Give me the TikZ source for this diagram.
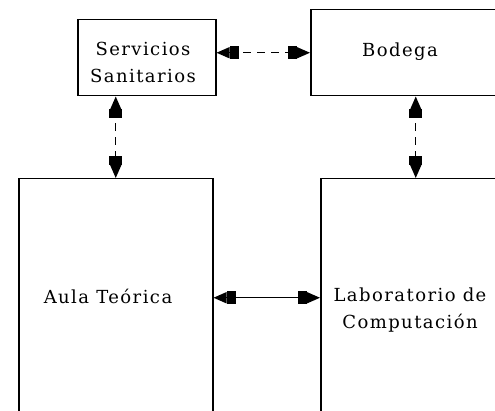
\documentclass[tikz,border=0pt]{standalone}
\usepackage{fontspec}
\setmainfont{DejaVu Serif}[LetterSpace=8]
\usetikzlibrary{arrows.meta}
\begin{document}
\begin{tikzpicture}[x=1pt,y=-1pt,
  box/.style={draw, line width=1.5pt, inner sep=0pt, anchor=north west},
  lbl/.style={font=\fontsize{18}{27}\selectfont, align=center, inner sep=0pt},
  conn/.style={{Triangle[length=13pt,width=11pt,sep=0pt] Rectangle[length=9pt,width=13pt,sep=0pt]}-{Rectangle[length=9pt,width=13pt,sep=0pt] Triangle[length=13pt,width=11pt,sep=0pt]}, line width=1.4pt},
  dsh/.style={dash pattern=on 8pt off 6pt}]
\useasboundingbox (0,0) rectangle (495,411);
\clip (0,0) rectangle (495,411);
\node[box, minimum width=138pt, minimum height=76pt] (serv) at (77,19) {};
\node[box, minimum width=200pt, minimum height=86pt] (bod) at (310,9) {};
\node[box, minimum width=194pt, minimum height=238pt] (aula) at (18,178) {};
\node[box, minimum width=190pt, minimum height=238pt] (lab) at (320,178) {};
\node[lbl] (tserv) at (143,62) {Servicios\\Sanitarios};
\node[lbl] (tbod) at (400,52) {Bodega};
\node[lbl] (taula) at (108,296) {Aula Teórica};
\node[lbl] (tlab) at (410,310) {Laboratorio de\\Computación};
\draw[conn, dsh] (serv.east |- bod.west) -- (bod.west);
\draw[conn, dsh] (aula.north |- serv.south) -- (aula.north);
\draw[conn, dsh] (lab.north |- bod.south) -- (lab.north);
\draw[conn] (aula.east) -- (lab.west);
\end{tikzpicture}
\end{document}
